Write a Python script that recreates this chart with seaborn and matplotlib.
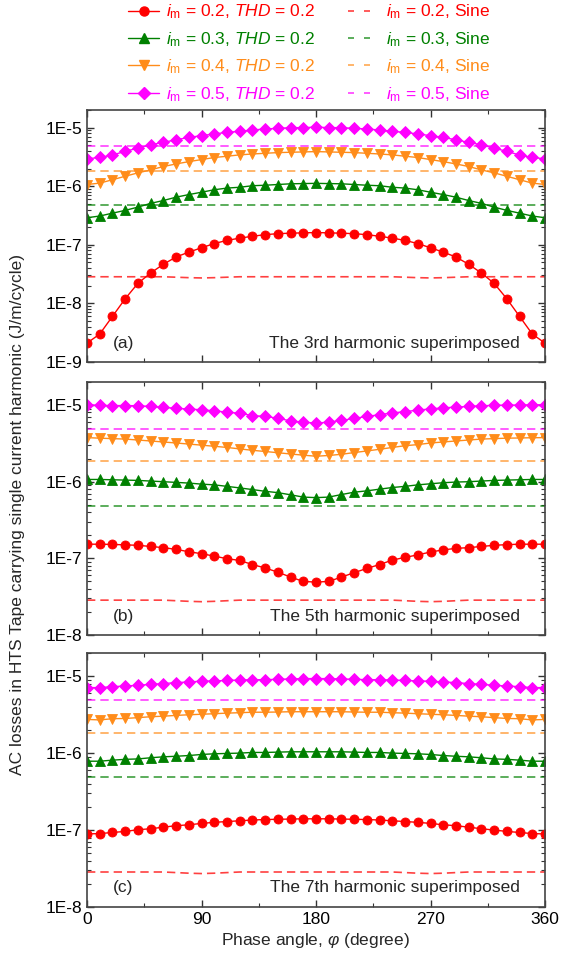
import numpy as np
import pandas as pd
import matplotlib
matplotlib.use("Agg")
import matplotlib.pyplot as plt
from matplotlib.lines import Line2D
from matplotlib.ticker import LogLocator, FuncFormatter, MultipleLocator, NullFormatter
import seaborn as sns

# ---------------- data ----------------
phi = list(range(0, 361, 10))

im_levels = ["0.2", "0.3", "0.4", "0.5"]

# Panel (a): 3rd harmonic superimposed
a_im02 = [2.1e-9, 3.0e-9, 6.0e-9, 1.2e-8, 2.2e-8, 3.3e-8, 4.65e-8, 6.2e-8, 7.5e-8, 8.9e-8,
          1.05e-7, 1.19e-7, 1.3e-7, 1.4e-7, 1.49e-7, 1.55e-7, 1.58e-7, 1.6e-7, 1.62e-7,
          1.6e-7, 1.58e-7, 1.55e-7, 1.49e-7, 1.4e-7, 1.3e-7, 1.19e-7, 1.05e-7, 8.9e-8,
          7.5e-8, 6.2e-8, 4.65e-8, 3.3e-8, 2.2e-8, 1.2e-8, 6.0e-9, 3.0e-9, 2.1e-9]
a_im03 = [2.9e-7, 3.1e-7, 3.47e-7, 3.87e-7, 4.4e-7, 5.1e-7, 5.7e-7, 6.5e-7, 7.2e-7, 7.9e-7,
          8.7e-7, 9.3e-7, 9.6e-7, 1.02e-6, 1.04e-6, 1.07e-6, 1.1e-6, 1.11e-6, 1.12e-6,
          1.11e-6, 1.1e-6, 1.07e-6, 1.04e-6, 1.02e-6, 9.6e-7, 9.3e-7, 8.7e-7, 7.9e-7,
          7.2e-7, 6.5e-7, 5.7e-7, 5.1e-7, 4.4e-7, 3.87e-7, 3.47e-7, 3.1e-7, 2.9e-7]
a_im04 = [1.07e-6, 1.13e-6, 1.29e-6, 1.48e-6, 1.69e-6, 1.9e-6, 2.17e-6, 2.4e-6, 2.63e-6, 2.85e-6,
          3.09e-6, 3.25e-6, 3.43e-6, 3.55e-6, 3.65e-6, 3.75e-6, 3.8e-6, 3.85e-6, 3.9e-6,
          3.85e-6, 3.8e-6, 3.75e-6, 3.65e-6, 3.55e-6, 3.43e-6, 3.25e-6, 3.09e-6, 2.85e-6,
          2.63e-6, 2.4e-6, 2.17e-6, 1.9e-6, 1.69e-6, 1.48e-6, 1.29e-6, 1.13e-6, 1.07e-6]
a_im05 = [2.93e-6, 3.1e-6, 3.4e-6, 3.95e-6, 4.45e-6, 5.1e-6, 5.6e-6, 6.2e-6, 6.8e-6, 7.3e-6,
          7.8e-6, 8.3e-6, 8.65e-6, 9.1e-6, 9.5e-6, 9.7e-6, 1.0e-5, 1.0e-5, 1.02e-5,
          1.0e-5, 1.0e-5, 9.7e-6, 9.5e-6, 9.1e-6, 8.65e-6, 8.3e-6, 7.8e-6, 7.3e-6,
          6.8e-6, 6.2e-6, 5.6e-6, 5.1e-6, 4.45e-6, 3.95e-6, 3.4e-6, 3.1e-6, 2.93e-6]

# Panel (b): 5th harmonic superimposed
b_im02 = [1.53e-7, 1.53e-7, 1.52e-7, 1.5e-7, 1.48e-7, 1.43e-7, 1.38e-7, 1.31e-7, 1.22e-7, 1.15e-7,
          1.07e-7, 9.9e-8, 9.4e-8, 8.3e-8, 7.5e-8, 6.6e-8, 5.7e-8, 5.0e-8, 4.9e-8,
          5.0e-8, 5.7e-8, 6.5e-8, 7.4e-8, 8.3e-8, 9.5e-8, 1.03e-7, 1.11e-7, 1.21e-7,
          1.29e-7, 1.35e-7, 1.38e-7, 1.43e-7, 1.48e-7, 1.51e-7, 1.53e-7, 1.53e-7, 1.53e-7]
b_im03 = [1.07e-6, 1.07e-6, 1.06e-6, 1.05e-6, 1.04e-6, 1.02e-6, 1.0e-6, 9.8e-7, 9.6e-7, 9.3e-7,
          9.1e-7, 8.7e-7, 8.3e-7, 7.9e-7, 7.5e-7, 7.2e-7, 6.75e-7, 6.3e-7, 6.2e-7,
          6.3e-7, 6.8e-7, 7.3e-7, 7.6e-7, 8.0e-7, 8.4e-7, 8.7e-7, 9.1e-7, 9.4e-7,
          9.7e-7, 9.9e-7, 1.0e-6, 1.02e-6, 1.04e-6, 1.05e-6, 1.06e-6, 1.07e-6, 1.07e-6]
b_im04 = [3.76e-6, 3.7e-6, 3.65e-6, 3.6e-6, 3.5e-6, 3.4e-6, 3.3e-6, 3.2e-6, 3.1e-6, 3.0e-6,
          2.9e-6, 2.8e-6, 2.68e-6, 2.57e-6, 2.48e-6, 2.39e-6, 2.3e-6, 2.22e-6, 2.15e-6,
          2.2e-6, 2.28e-6, 2.4e-6, 2.52e-6, 2.65e-6, 2.8e-6, 2.95e-6, 3.05e-6, 3.2e-6,
          3.3e-6, 3.4e-6, 3.5e-6, 3.6e-6, 3.65e-6, 3.7e-6, 3.72e-6, 3.75e-6, 3.76e-6]
b_im05 = [1.01e-5, 9.9e-6, 9.85e-6, 9.85e-6, 9.8e-6, 9.6e-6, 9.3e-6, 9.1e-6, 8.85e-6, 8.7e-6,
          8.4e-6, 8.1e-6, 7.8e-6, 7.3e-6, 7.1e-6, 6.75e-6, 6.2e-6, 6.0e-6, 5.8e-6,
          6.0e-6, 6.3e-6, 6.7e-6, 7.1e-6, 7.5e-6, 7.9e-6, 8.2e-6, 8.6e-6, 8.9e-6,
          9.2e-6, 9.4e-6, 9.6e-6, 9.8e-6, 9.9e-6, 1.0e-5, 1.0e-5, 1.01e-5, 1.01e-5]

# Panel (c): 7th harmonic superimposed
c_im02 = [8.9e-8, 9.0e-8, 9.3e-8, 9.6e-8, 1.01e-7, 1.04e-7, 1.09e-7, 1.14e-7, 1.17e-7, 1.22e-7,
          1.26e-7, 1.29e-7, 1.32e-7, 1.35e-7, 1.37e-7, 1.38e-7, 1.39e-7, 1.4e-7, 1.4e-7,
          1.4e-7, 1.39e-7, 1.38e-7, 1.37e-7, 1.35e-7, 1.32e-7, 1.29e-7, 1.26e-7, 1.22e-7,
          1.17e-7, 1.14e-7, 1.09e-7, 1.04e-7, 1.0e-7, 9.6e-8, 9.3e-8, 9.0e-8, 8.9e-8]
c_im03 = [7.85e-7, 7.85e-7, 8.1e-7, 8.3e-7, 8.4e-7, 8.7e-7, 8.95e-7, 9.1e-7, 9.3e-7, 9.6e-7,
          9.8e-7, 9.9e-7, 1.0e-6, 1.02e-6, 1.02e-6, 1.03e-6, 1.04e-6, 1.04e-6, 1.04e-6,
          1.04e-6, 1.04e-6, 1.03e-6, 1.02e-6, 1.02e-6, 1.0e-6, 9.9e-7, 9.8e-7, 9.6e-7,
          9.3e-7, 9.1e-7, 8.95e-7, 8.7e-7, 8.4e-7, 8.3e-7, 8.1e-7, 7.85e-7, 7.85e-7]
c_im04 = [2.74e-6, 2.7e-6, 2.8e-6, 2.82e-6, 2.89e-6, 2.97e-6, 3.02e-6, 3.09e-6, 3.15e-6, 3.2e-6,
          3.25e-6, 3.31e-6, 3.35e-6, 3.4e-6, 3.4e-6, 3.42e-6, 3.45e-6, 3.45e-6, 3.45e-6,
          3.45e-6, 3.45e-6, 3.42e-6, 3.4e-6, 3.4e-6, 3.35e-6, 3.31e-6, 3.25e-6, 3.2e-6,
          3.15e-6, 3.09e-6, 3.02e-6, 2.97e-6, 2.89e-6, 2.82e-6, 2.8e-6, 2.7e-6, 2.74e-6]
c_im05 = [7.1e-6, 7.1e-6, 7.3e-6, 7.45e-6, 7.6e-6, 7.83e-6, 8.0e-6, 8.25e-6, 8.4e-6, 8.6e-6,
          8.66e-6, 8.8e-6, 8.9e-6, 9.0e-6, 9.0e-6, 9.1e-6, 9.2e-6, 9.3e-6, 9.3e-6,
          9.3e-6, 9.2e-6, 9.1e-6, 9.0e-6, 9.0e-6, 8.9e-6, 8.8e-6, 8.66e-6, 8.6e-6,
          8.4e-6, 8.25e-6, 8.0e-6, 7.83e-6, 7.6e-6, 7.45e-6, 7.3e-6, 7.1e-6, 7.1e-6]

# Pure sine reference (no harmonic)
sine_im02 = [2.85e-8, 2.85e-8, 2.85e-8, 2.85e-8, 2.85e-8, 2.85e-8, 2.85e-8, 2.8e-8, 2.75e-8, 2.72e-8,
             2.75e-8, 2.8e-8, 2.85e-8, 2.85e-8, 2.85e-8, 2.85e-8, 2.85e-8, 2.85e-8, 2.85e-8,
             2.85e-8, 2.85e-8, 2.85e-8, 2.85e-8, 2.85e-8, 2.85e-8, 2.8e-8, 2.75e-8, 2.72e-8,
             2.75e-8, 2.8e-8, 2.85e-8, 2.85e-8, 2.85e-8, 2.85e-8, 2.85e-8, 2.85e-8, 2.85e-8]
sine_im03 = [4.85e-7] * 37
sine_im04 = [1.85e-6] * 37
sine_im05 = [4.85e-6] * 37

panel_tags = ["(a)", "(b)", "(c)"]
panel_titles = ["The 3rd harmonic superimposed",
                "The 5th harmonic superimposed",
                "The 7th harmonic superimposed"]
panel_ymin = [1e-9, 1e-8, 1e-8]
x_ticks = [0, 90, 180, 270, 360]

# ---------------- style ----------------
sns.set_theme(style="ticks")
plt.rcParams["font.family"] = ["Liberation Sans", "DejaVu Sans"]
plt.rcParams["mathtext.fontset"] = "custom"
plt.rcParams["mathtext.rm"] = "Liberation Sans"
plt.rcParams["mathtext.it"] = "Liberation Sans:italic"
plt.rcParams["mathtext.bf"] = "Liberation Sans:bold"
FS = 12.5

colors = ["#ff0000", "#008000", "#ff8c1a", "#ff00ff"]
markers = ["o", "^", "v", "D"]
msizes = [6.5, 7.5, 7.5, 6.5]

panels = [
    [a_im02, a_im03, a_im04, a_im05],
    [b_im02, b_im03, b_im04, b_im05],
    [c_im02, c_im03, c_im04, c_im05],
]
sines = [sine_im02, sine_im03, sine_im04, sine_im05]

fig = plt.figure(figsize=(5.74, 9.59), dpi=100)
W = 458 / 574
L = 87 / 574
rects = [
    [L, 1 - 362 / 959, W, 252 / 959],
    [L, 1 - 635 / 959, W, 253 / 959],
    [L, 1 - 907 / 959, W, 254 / 959],
]

axes = []
for p, rect in enumerate(rects):
    ax = fig.add_axes(rect)
    axes.append(ax)
    for k in range(4):
        df = pd.DataFrame({"phi": phi, "loss": sines[k]})
        sns.lineplot(data=df, x="phi", y="loss", ax=ax, color=colors[k],
                     lw=1.2, dashes=False, alpha=0.75, legend=False)
        ax.lines[-1].set_dashes((5, 3))
    for k in range(4):
        df = pd.DataFrame({"phi": phi, "loss": panels[p][k]})
        sns.lineplot(data=df, x="phi", y="loss", ax=ax, color=colors[k],
                     marker=markers[k], markersize=msizes[k], markeredgecolor=colors[k],
                     markeredgewidth=0.6, lw=1.0, legend=False)
    ax.set_yscale("log")
    ax.set_xlim(0, 360)
    ax.set_ylim(panel_ymin[p], 2e-5)
    ax.set_xticks(x_ticks)
    ax.xaxis.set_minor_locator(MultipleLocator(45))
    ax.yaxis.set_major_locator(LogLocator(base=10, numticks=20))
    ax.yaxis.set_minor_locator(LogLocator(base=10, subs=np.arange(2, 10), numticks=50))
    ax.yaxis.set_minor_formatter(NullFormatter())
    ax.yaxis.set_major_formatter(FuncFormatter(lambda v, pos: f"1E{int(round(np.log10(v)))}"))
    ax.tick_params(which="both", direction="in", top=True, right=True, labelsize=FS,
                   colors="#333333", labelcolor="black")
    ax.tick_params(which="major", length=5, width=1)
    ax.tick_params(which="minor", length=3, width=0.8)
    for s in ax.spines.values():
        s.set_color("#444444")
        s.set_linewidth(1.2)
    ax.set_xlabel("")
    ax.set_ylabel("")
    if p < 2:
        ax.tick_params(labelbottom=False)
    ax.text(0.057, 0.075, panel_tags[p], transform=ax.transAxes, fontsize=FS,
            ha="left", va="center")
    ax.text(0.945, 0.075, panel_titles[p], transform=ax.transAxes, fontsize=FS,
            ha="right", va="center")

axes[2].set_xlabel(r"Phase angle, $\varphi$ (degree)", fontsize=FS, labelpad=3)
fig.text(0.031, 0.463, "AC losses in HTS Tape carrying single current harmonic (J/m/cycle)",
         rotation=90, ha="center", va="center", fontsize=FS)

# ---------------- legend ----------------
handles = []
labels = []
for k in range(4):
    handles.append(Line2D([], [], color=colors[k], marker=markers[k], markersize=msizes[k],
                          lw=1.0))
    labels.append(r"$i_{\mathrm{m}}$ = " + im_levels[k] + r", $THD$ = 0.2")
for k in range(4):
    handles.append(Line2D([], [], color=colors[k], lw=1.2, alpha=0.75,
                          linestyle=(0, (3.6, 6))))
    labels.append(r"$i_{\mathrm{m}}$ = " + im_levels[k] + ", Sine")
fig.legend(handles, labels, loc="upper left", bbox_to_anchor=(0.205, 1.008), ncol=2,
           frameon=False, fontsize=FS, labelcolor=colors + colors, handlelength=1.8,
           handletextpad=0.4, columnspacing=1.9, labelspacing=0.5, borderaxespad=0.2)

fig.savefig("out.png", dpi=100)
